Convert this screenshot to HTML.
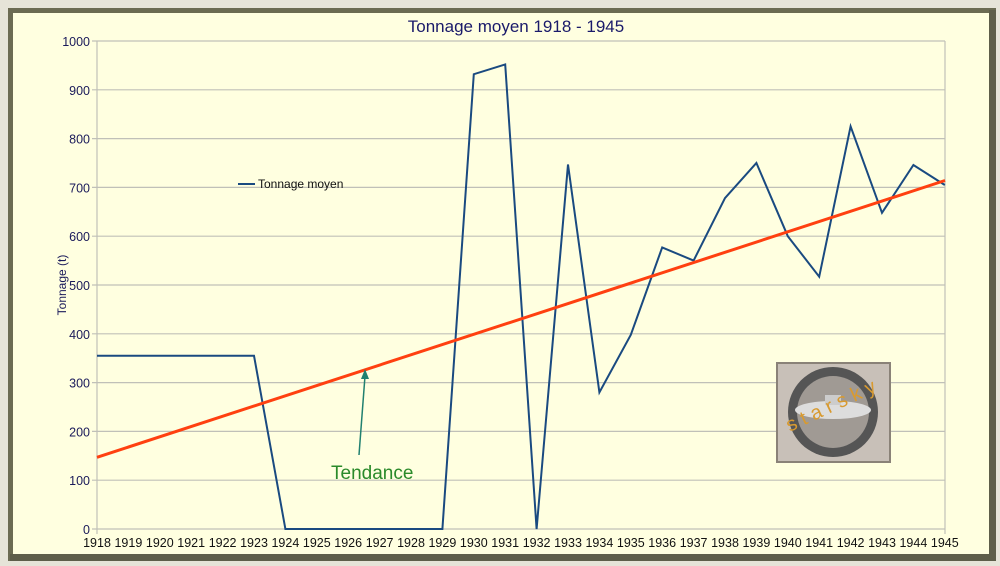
<!DOCTYPE html>
<html><head><meta charset="utf-8"><style>
body{margin:0;width:1000px;height:566px;overflow:hidden;background:#e4e2d6;}
svg{display:block;font-family:"Liberation Sans",sans-serif;}
</style></head><body>
<svg width="1000" height="566" viewBox="0 0 1000 566">
<rect x="0" y="0" width="1000" height="566" fill="#e6e4d8"/>
<rect x="8" y="8" width="988" height="553" fill="#6b6b52"/>
<rect x="13" y="13" width="976" height="541" fill="#ffffe0"/>
<rect x="989" y="10" width="7" height="551" fill="#5e5e4a"/>
<rect x="10" y="554" width="986" height="7" fill="#5e5e4a"/>
<g stroke="#c0c0b8" stroke-width="1.2">
<line x1="92" y1="41" x2="945" y2="41"/>
<line x1="92" y1="89.8" x2="945" y2="89.8"/>
<line x1="92" y1="138.6" x2="945" y2="138.6"/>
<line x1="92" y1="187.4" x2="945" y2="187.4"/>
<line x1="92" y1="236.2" x2="945" y2="236.2"/>
<line x1="92" y1="285" x2="945" y2="285"/>
<line x1="92" y1="333.8" x2="945" y2="333.8"/>
<line x1="92" y1="382.6" x2="945" y2="382.6"/>
<line x1="92" y1="431.4" x2="945" y2="431.4"/>
<line x1="92" y1="480.2" x2="945" y2="480.2"/>
<line x1="92" y1="529" x2="945" y2="529"/>
<line x1="97" y1="41" x2="97" y2="534"/>
<line x1="945" y1="41" x2="945" y2="534"/>
</g>
<g fill="#1a1a5a" font-size="12.5" text-anchor="end">
<text x="90" y="46">1000</text><text x="90" y="94.8">900</text><text x="90" y="143.6">800</text>
<text x="90" y="192.4">700</text><text x="90" y="241.2">600</text><text x="90" y="290">500</text>
<text x="90" y="338.8">400</text><text x="90" y="387.6">300</text><text x="90" y="436.4">200</text>
<text x="90" y="485.2">100</text><text x="90" y="534">0</text>
</g>
<text x="66" y="285" fill="#1a1a5a" font-size="12" text-anchor="middle" transform="rotate(-90 66 285)">Tonnage (t)</text>
<text x="516" y="32" fill="#1a1a6a" font-size="17" text-anchor="middle">Tonnage moyen 1918 - 1945</text>
<g fill="#111" font-size="12.5" text-anchor="middle">
<text x="97" y="547">1918</text><text x="128.4" y="547">1919</text><text x="159.8" y="547">1920</text><text x="191.2" y="547">1921</text><text x="222.6" y="547">1922</text><text x="254" y="547">1923</text><text x="285.4" y="547">1924</text><text x="316.8" y="547">1925</text><text x="348.2" y="547">1926</text><text x="379.6" y="547">1927</text><text x="411" y="547">1928</text><text x="442.4" y="547">1929</text><text x="473.8" y="547">1930</text><text x="505.2" y="547">1931</text><text x="536.6" y="547">1932</text><text x="568" y="547">1933</text><text x="599.4" y="547">1934</text><text x="630.8" y="547">1935</text><text x="662.2" y="547">1936</text><text x="693.6" y="547">1937</text><text x="725" y="547">1938</text><text x="756.4" y="547">1939</text><text x="787.8" y="547">1940</text><text x="819.2" y="547">1941</text><text x="850.6" y="547">1942</text><text x="882" y="547">1943</text><text x="913.4" y="547">1944</text><text x="944.8" y="547">1945</text>
</g>
<polyline fill="none" stroke="#1a4a80" stroke-width="2" points="97,355.8 254,355.8 285.4,529 442.4,529 473.8,74.2 505.2,64.4 536.6,529 568,164.5 599.4,392.4 630.8,334.8 662.2,247.4 693.6,260.6 725,198.1 756.4,163 787.8,236.2 819.2,276.7 850.6,126.4 882,212.8 913.4,165 944.8,185"/>
<line x1="97" y1="457.3" x2="945" y2="180.5" stroke="#ff4010" stroke-width="3"/>
<line x1="238" y1="184" x2="255" y2="184" stroke="#1a4a80" stroke-width="2"/>
<text x="258" y="188" font-size="12" fill="#111">Tonnage moyen</text>
<line x1="359" y1="455" x2="365" y2="376" stroke="#208070" stroke-width="1.5"/>
<polygon points="365,369 361,379 369,379" fill="#208070"/>
<text x="331" y="479" font-size="19" fill="#2a8a2a">Tendance</text>
<rect x="776" y="362" width="115" height="101" fill="#8a8278"/>
<rect x="778" y="364" width="111" height="97" fill="#c8c0b8"/>
<circle cx="833" cy="412" r="45" fill="#555"/>
<circle cx="833" cy="412" r="36" fill="#a09a94"/>
<ellipse cx="833" cy="410" rx="38" ry="9" fill="#ddd"/>
<rect x="825" y="395" width="16" height="10" fill="#ccc"/>
<text x="780" y="412" font-size="20" fill="#d89a30" transform="rotate(-25 830 400)">s t a r s k y</text>
</svg>
</body></html>
